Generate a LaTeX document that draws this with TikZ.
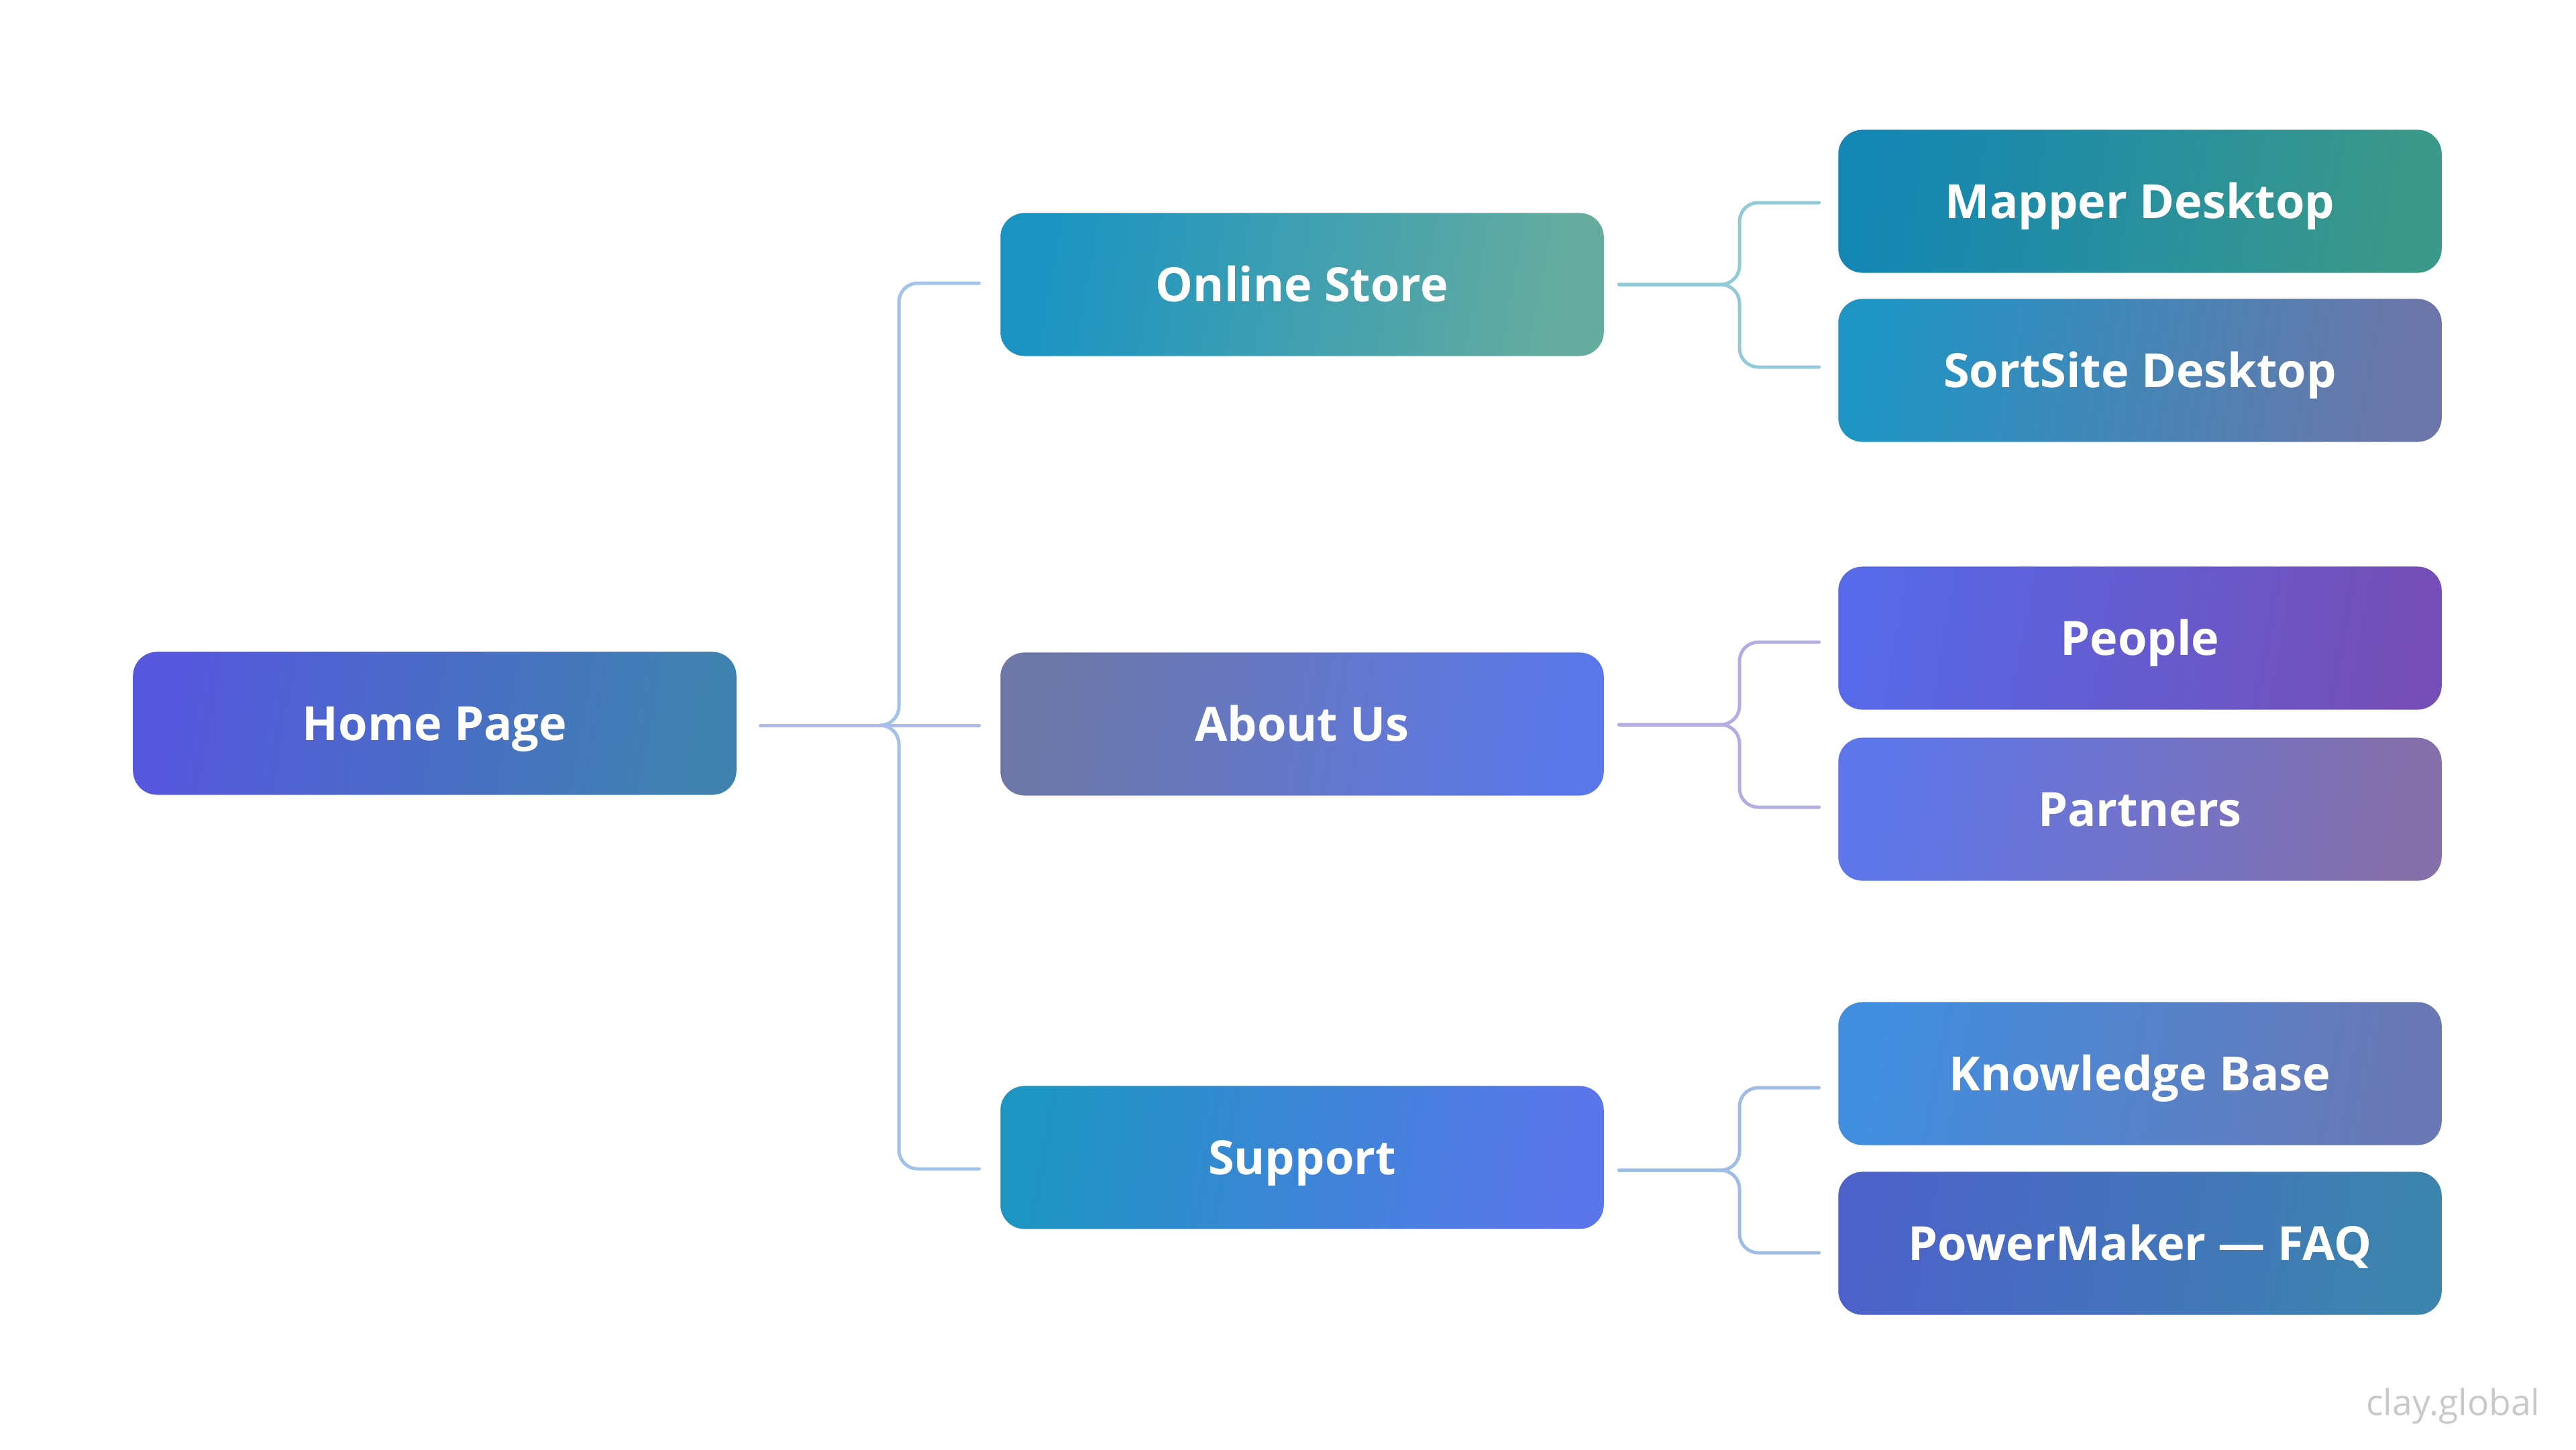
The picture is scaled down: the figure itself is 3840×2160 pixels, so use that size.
\documentclass[tikz,border=0pt]{standalone}
\usepackage{fontspec}
\usetikzlibrary{calc}
\setmainfont{Open Sans}
\IfFontExistsTF{Open Sans SemiBold}{\newfontfamily\labfont{Open Sans SemiBold}}{\newcommand\labfont{\bfseries}}
\definecolor{homeL}{HTML}{5557DD}\definecolor{homeR}{HTML}{3F82B0}
\definecolor{onlL}{HTML}{1A93C3}\definecolor{onlR}{HTML}{66AC9E}
\definecolor{abtL}{HTML}{6E78A8}\definecolor{abtR}{HTML}{5B78EA}
\definecolor{supL}{HTML}{1D94C2}\definecolor{supR}{HTML}{5B76EB}
\definecolor{mapL}{HTML}{1486B3}\definecolor{mapR}{HTML}{3B9888}
\definecolor{sorL}{HTML}{1F95C4}\definecolor{sorR}{HTML}{6B75A8}
\definecolor{peoL}{HTML}{5769E8}\definecolor{peoR}{HTML}{744EB6}
\definecolor{parL}{HTML}{5D76EA}\definecolor{parR}{HTML}{8570AA}
\definecolor{kbL}{HTML}{418EE0}\definecolor{kbR}{HTML}{6A78B5}
\definecolor{pmL}{HTML}{4C62C9}\definecolor{pmR}{HTML}{3C84AE}
\definecolor{lnA}{HTML}{A2C2E8}\definecolor{lnH}{HTML}{ADB8EE}
\definecolor{lnO}{HTML}{93CAD9}\definecolor{lnP}{HTML}{B2ADE2}
\definecolor{lnS}{HTML}{9DBDE7}\definecolor{wm}{HTML}{C9C9C9}
\begin{document}
\begin{tikzpicture}[x=0.01cm,y=-0.01cm,
  box/.style={rounded corners=0.36cm, minimum width=8.99cm, minimum height=2.13cm,
    inner sep=0pt, text height=14.3pt, text depth=0pt, text=white,
    font=\labfont\fontsize{20}{24}\selectfont},
  grad/.style 2 args={left color=#1, right color=#2, shading angle=80},
  link/.style={line width=0.05cm, rounded corners=0.28cm, line cap=round, line join=round}]
\fill[white] (0,0) rectangle (3840,2160);
\useasboundingbox (0,0) rectangle (3840,2160);

\node[box, grad={homeL}{homeR}] (home) at (648,1078) {Home Page};
\node[box, grad={onlL}{onlR}] (online) at (1941,424) {Online Store};
\node[box, grad={abtL}{abtR}] (about) at (1941,1079) {About Us};
\node[box, grad={supL}{supR}] (support) at (1941,1725) {Support};
\node[box, grad={mapL}{mapR}] (mapper) at (3190,300) {Mapper Desktop};
\node[box, grad={sorL}{sorR}] (sortsite) at (3190,552) {SortSite Desktop};
\node[box, grad={peoL}{peoR}] (people) at (3190,951) {People};
\node[box, grad={parL}{parR}] (partners) at (3190,1206) {Partners};
\node[box, grad={kbL}{kbR}] (kb) at (3190,1600) {Knowledge Base};
\node[box, grad={pmL}{pmR}] (pm) at (3190,1853) {PowerMaker — FAQ};

% level 1 connectors
\coordinate (h1s) at ($(home.east)+(35,3)$);
\coordinate (h1e) at ($(about.west)+(-31,2)$);
\coordinate (j1) at (1312,1081);
\coordinate (vx1) at (1340,0);
\coordinate (t1) at ($(online.west)+(-31,-2)$);
\coordinate (b1) at ($(support.west)+(-31,17)$);
\draw[link, lnA] (j1) -| (vx1 |- t1) -- (t1);
\draw[link, lnA] (j1) -| (vx1 |- b1) -- (b1);
\draw[link, lnH] (h1s) -- (h1e);

% online store
\coordinate (os) at ($(online.east)+(22,0)$);
\coordinate (vx2) at (2593,0);
\coordinate (m1) at ($(mapper.west)+(-28,2)$);
\coordinate (s1) at ($(sortsite.west)+(-28,-5)$);
\draw[link, lnO] (os) -| (vx2 |- m1) -- (m1);
\draw[link, lnO] (os) -| (vx2 |- s1) -- (s1);

% about us
\coordinate (as) at ($(about.east)+(22,1)$);
\coordinate (p1) at ($(people.west)+(-28,6)$);
\coordinate (q1) at ($(partners.west)+(-28,-3)$);
\draw[link, lnP] (as) -| (vx2 |- p1) -- (p1);
\draw[link, lnP] (as) -| (vx2 |- q1) -- (q1);

% support
\coordinate (ss) at ($(support.east)+(22,19)$);
\coordinate (k1) at ($(kb.west)+(-28,21)$);
\coordinate (f1) at ($(pm.west)+(-28,14)$);
\draw[link, lnS] (ss) -| (vx2 |- k1) -- (k1);
\draw[link, lnS] (ss) -| (vx2 |- f1) -- (f1);

\node[font=\fontsize{15.2}{17}\selectfont, text=wm, anchor=base east, inner sep=0pt] (wmark) at (3787,2109) {clay.global};
\end{tikzpicture}
\end{document}
